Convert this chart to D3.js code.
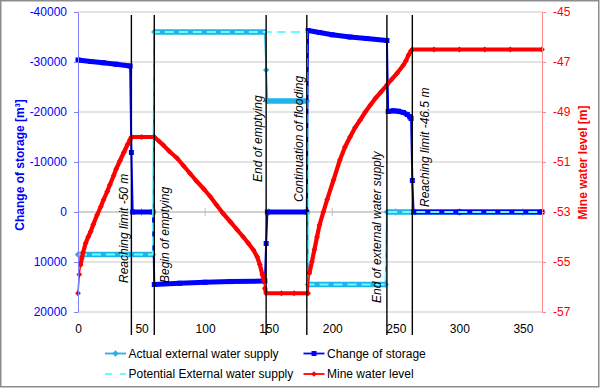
<!DOCTYPE html>
<html>
<head>
<meta charset="utf-8">
<script src="https://cdn.jsdelivr.net/npm/d3@7"></script>
<style>
body{margin:0;background:#fff}
svg{display:block;font-family:"Liberation Sans",Arial,sans-serif}
</style>
</head>
<body>
<div id="chart-area"></div>
<script>

// ---- data ----
var dayTicks = [0,50,100,150,200,250,300,350];
var storageTicks = [-40000,-30000,-20000,-10000,0,10000,20000];
var levelTicks = [-45,-47,-49,-51,-53,-55,-57];

// [day, m3]
var actualSupply = [[0,8500],[59,8500],[60,-36000],[147,-36000],[148,-28400],[149,-22200],
  [180,-22200],[181,14500],[242,14500],[243,0],[300,0],[365,0]];

var potentialSupply = [[0,8500],[59,8500],[60,-36000],[180,-36000],[181,14500],
  [242,14500],[243,0],[365,0]];

var storageChange = [[0,-30400],[10,-30100],[20,-29850],[30,-29550],[41,-29200],[42,-11900],
  [43,0],[59,0],[60,14500],[80,14250],[100,14050],[120,13920],[147,13800],[148,6300],[149,0],
  [180,0],[181,-36300],[190,-35900],[200,-35450],[214,-35000],[227,-34700],[243,-34300],
  [244,-20100],[248,-20250],[252,-20150],[256,-19900],[259,-19500],[261,-19050],[262,-18700],
  [263,-6300],[264,0],[300,0],[365,0]];

// [day, m]
var mineLevel = [[0,-56.25],[1,-55.5],[2,-55.12],[3,-54.85],[4,-54.62],[6,-54.25],[8,-54.0],
  [10,-53.78],[12,-53.5],[15,-53.12],[18,-52.78],[20,-52.52],[23,-52.18],[25,-51.92],
  [28,-51.55],[30,-51.28],[33,-50.95],[36,-50.62],[39,-50.3],[41,-50.1],[42,-50.0],[50,-50.0],
  [60,-50.0],[64,-50.18],[67,-50.32],[72,-50.58],[78,-50.85],[83,-51.15],[88,-51.45],
  [93,-51.75],[99,-52.08],[104,-52.38],[109,-52.72],[114,-53.05],[120,-53.4],[125,-53.7],
  [130,-54.0],[134,-54.25],[138,-54.52],[141,-54.8],[143,-55.1],[145,-55.5],[146,-55.75],
  [147,-56.05],[148,-56.25],[160,-56.25],[170,-56.25],[181,-56.25],[182,-55.45],[184,-54.99],
  [186,-54.5],[188,-54.0],[190,-53.52],[193,-53.0],[196,-52.5],[201,-51.72],[206,-50.92],
  [210,-50.4],[214,-50.0],[218,-49.62],[222,-49.32],[226,-49.0],[230,-48.72],[234,-48.45],
  [238,-48.22],[243,-47.92],[247,-47.68],[251,-47.45],[256,-47.12],[258,-46.95],[260,-46.72],
  [262,-46.55],[263,-46.5],[280,-46.5],[300,-46.5],[320,-46.5],[340,-46.5],[365,-46.5]];

var eventDays = [42,60,148,180,243,263];
var eventLabels = ["Reaching limit -50 m","Begin of emptying","End of emptying",
  "Continuation of flooding","End of external water supply","Reaching limit -46.5 m"];

// label placement (px): bottom end of the rotated text, offset from the line
var labelBottom = [283,283,182,202,303,207];
var labelDx = [-3.5,15,-4.5,-3.5,-6,17];

// ---- layout ----
var total_width = 600, total_height = 388;
var svg = d3.select('#chart-area').append('svg')
            .attr("width",total_width)
            .attr("height",total_height);

var x = d3.scaleLinear().domain([0,365]).range([78,542]);
var yL = d3.scaleLinear().domain([-40000,20000]).range([12,312]);
var yR = d3.scaleLinear().domain([-45,-57]).range([12,312]);

svg.append('rect').attr("x",0.75).attr("y",0.75).attr("width",598).attr("height",386)
   .attr("fill","#fff").attr("stroke","#8c8c8c").attr("stroke-width",1.5);

// gridlines
svg.append('g').selectAll('line').data(storageTicks).enter().append('line')
   .attr("x1",78).attr("x2",542)
   .attr("y1",d => yL(d)).attr("y2",d => yL(d))
   .attr("stroke","#c8c8c8").attr("stroke-width",1);

// horizontal axis line sits on 0 of the left axis
var zero = svg.append('g');
zero.append('line').attr("x1",78).attr("x2",542).attr("y1",yL(0)).attr("y2",yL(0))
    .attr("stroke","#bfbfbf");
zero.selectAll('.zt').data(dayTicks.slice(1)).enter().append('line')
    .attr("x1",d => x(d)).attr("x2",d => x(d))
    .attr("y1",yL(0)-4).attr("y2",yL(0)+4)
    .attr("stroke","#bfbfbf");

function diamond(r){ return "M0,"+(-r)+"L"+r+",0L0,"+r+"L"+(-r)+",0Z"; }

function drawSeries(data, yScale, color, thin, thick, marker){
  var g = svg.append('g');
  var pts = data.map(d => [x(d[0]), yScale(d[1])]);
  g.append('path').attr("d", d3.line()(pts))
   .attr("fill","none").attr("stroke",color).attr("stroke-width",thin);

  // runs of gentle segments look heavy in the original (daily markers)
  var runs = [], cur = null;
  for (var i = 1; i < pts.length; i++){
    var dx = pts[i][0]-pts[i-1][0], dy = Math.abs(pts[i][1]-pts[i-1][1]);
    if (dy <= 5.5*dx){
      if (!cur){ cur = [pts[i-1]]; runs.push(cur); }
      cur.push(pts[i]);
    } else cur = null;
  }
  g.selectAll('.run').data(runs).enter().append('path')
   .attr("d", d => d3.line()(d))
   .attr("fill","none").attr("stroke",color).attr("stroke-width",thick)
   .attr("stroke-linejoin","round");

  g.selectAll('.mk').data(pts).enter().append('path')
   .attr("transform", d => "translate("+d[0]+","+d[1]+")")
   .attr("d", marker)
   .attr("fill",color);
  return g;
}

var cyan = "#20b2ea", blue = "#0000ff", paleCyan = "#66ffff", red = "#ff0000";

drawSeries(actualSupply, yL, cyan, 1.6, 5.5, diamond(3.2));
drawSeries(storageChange, yL, blue, 2, 5, "M-2.5,-2.5h5v5h-5Z");

svg.append('path')
   .attr("d", d3.line().x(d => x(d[0])).y(d => yL(d[1]))(potentialSupply))
   .attr("fill","none").attr("stroke",paleCyan).attr("stroke-width",2.2)
   .attr("stroke-dasharray","9,5");

drawSeries(mineLevel, yR, red, 1.5, 4.2, diamond(2.9));

// event lines and labels
var ev = svg.append('g');
ev.selectAll('line').data(eventDays).enter().append('line')
  .attr("x1",d => x(d)).attr("x2",d => x(d))
  .attr("y1",15).attr("y2",335)
  .attr("stroke","#000").attr("stroke-width",1.4);
ev.selectAll('text').data(eventLabels).enter().append('text')
  .attr("transform",(d,i) => "translate("+(x(eventDays[i])+labelDx[i])+","+labelBottom[i]+") rotate(-90)")
  .attr("font-size","12px").attr("font-style","italic").attr("fill","#000")
  .text(d => d);

// axes
var fmt = d => String(d);
var left = svg.append('g').attr("transform","translate(78,0)")
   .call(d3.axisLeft(yL).tickValues(storageTicks).tickSize(4).tickSizeOuter(0).tickPadding(7).tickFormat(fmt));
left.select('.domain').attr("stroke","#8080ff");
left.selectAll('line').attr("stroke","#8080ff");
left.selectAll('text').attr("fill",blue).attr("font-size","12px")
   .attr("font-family","'Liberation Sans',Arial,sans-serif");

var right = svg.append('g').attr("transform","translate(542,0)")
   .call(d3.axisRight(yR).tickValues(levelTicks).tickSize(4).tickSizeOuter(0).tickPadding(7).tickFormat(fmt));
right.select('.domain').attr("stroke","#ff8c8c");
right.selectAll('line').attr("stroke","#ff8c8c");
right.selectAll('text').attr("fill",red).attr("font-size","12px")
   .attr("font-family","'Liberation Sans',Arial,sans-serif");

var bottom = svg.append('g').attr("transform","translate(0,312)")
   .call(d3.axisBottom(x).tickValues(dayTicks).tickSize(0).tickPadding(12.5).tickFormat(fmt));
bottom.select('.domain').remove();
bottom.selectAll('text').attr("fill","#000").attr("font-size","12px")
   .attr("font-family","'Liberation Sans',Arial,sans-serif");

svg.append('text').attr("transform","translate(23.5,165) rotate(-90)")
   .attr("text-anchor","middle").attr("font-size","12px").attr("font-weight","bold")
   .attr("fill",blue).text("Change of storage [m³]");
svg.append('text').attr("transform","translate(587,162.5) rotate(-90)")
   .attr("text-anchor","middle").attr("font-size","12px").attr("font-weight","bold")
   .attr("fill",red).text("Mine water level [m]");

// legend
var legend = [
  {name:"Actual external water supply", color:cyan, x:105, y:353.5, mark:diamond(3.2)},
  {name:"Change of storage", color:blue, x:303.5, y:353.5, mark:"M-2.5,-2.5h5v5h-5Z"},
  {name:"Potential External water supply", color:paleCyan, x:105, y:374, dash:"7,8"},
  {name:"Mine water level", color:red, x:303.5, y:374, mark:diamond(2.8)}
];
var lg = svg.append('g').selectAll('g').data(legend).enter().append('g')
   .attr("transform", d => "translate("+d.x+","+d.y+")");
lg.append('line').attr("x1",0).attr("x2",21).attr("y1",0).attr("y2",0)
  .attr("stroke", d => d.color).attr("stroke-width", d => d.dash ? 2.2 : 1.8)
  .attr("stroke-dasharray", d => d.dash || null);
lg.filter(d => d.mark).append('path')
  .attr("transform","translate(10.5,0)").attr("d", d => d.mark).attr("fill", d => d.color);
lg.append('text').attr("x",23.5).attr("y",4.2).attr("font-size","12px").attr("fill","#000")
  .text(d => d.name);

</script>
</body>
</html>
